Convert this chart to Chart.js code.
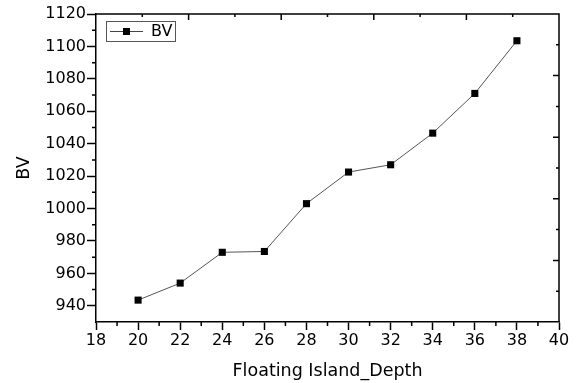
<!DOCTYPE html>
<html>
<head>
<meta charset="utf-8">
<script src="https://cdn.jsdelivr.net/npm/chart.js@4.4.1/dist/chart.umd.min.js"></script>
<style>
  html, body { margin: 0; padding: 0; background: #fff; }
  canvas { display: block; }
</style>
</head>
<body>
<canvas id="bvChart" width="580" height="383"></canvas>
<script>
// data
const depth = [20, 22, 24, 26, 28, 30, 32, 34, 36, 38];
const bv = [943.5, 954, 973, 973.5, 1003, 1022.5, 1027, 1046.5, 1071, 1103.5];
const xTicks = [18, 20, 22, 24, 26, 28, 30, 32, 34, 36, 38, 40];
const yTicks = [940, 960, 980, 1000, 1020, 1040, 1060, 1080, 1100, 1120];

const FONT = "'DejaVu Sans', sans-serif";

// frame, minor ticks, top/right ticks and the legend box
const framePlugin = {
  id: "frame",
  afterDraw(chart) {
    const ctx = chart.ctx;
    const xs = chart.scales.x;
    const ys = chart.scales.y;
    const a = chart.chartArea;
    ctx.save();
    ctx.strokeStyle = "#000";
    ctx.lineWidth = 1.5;

    // minor ticks bottom / left (outward)
    ctx.beginPath();
    for (let v = 19; v < 40; v += 2) {
      const px = xs.getPixelForValue(v);
      ctx.moveTo(px, a.bottom);
      ctx.lineTo(px, a.bottom + 4);
    }
    for (let v = 950; v < 1120; v += 20) {
      const py = ys.getPixelForValue(v);
      ctx.moveTo(a.left, py);
      ctx.lineTo(a.left - 4, py);
    }
    ctx.stroke();

    // top and right axes, 10 divisions each, ticks inward
    ctx.beginPath();
    ctx.moveTo(a.left, a.top);
    ctx.lineTo(a.right, a.top);
    ctx.lineTo(a.right, a.bottom);
    for (let i = 1; i < 10; i++) {
      const len = i % 2 === 0 ? 6 : 3;
      const px = xs.getPixelForValue(18 + 2.2 * i);
      ctx.moveTo(px, a.top);
      ctx.lineTo(px, a.top + len);
      const py = ys.getPixelForValue(1120 - 19 * i);
      ctx.moveTo(a.right, py);
      ctx.lineTo(a.right - len, py);
    }
    ctx.stroke();

    // legend
    const lx = a.left + 10, ly = a.top + 7, lw = 69, lh = 20;
    ctx.lineWidth = 1;
    ctx.strokeStyle = "#555";
    ctx.strokeRect(lx + 0.5, ly + 0.5, lw, lh);
    const my = ly + lh / 2 + 0.5;
    ctx.strokeStyle = "#444";
    ctx.beginPath();
    ctx.moveTo(lx + 4, my);
    ctx.lineTo(lx + 37, my);
    ctx.stroke();
    ctx.fillStyle = "#000";
    ctx.fillRect(lx + 17, my - 3.5, 7, 7);
    ctx.font = "16px " + FONT;
    ctx.textBaseline = "middle";
    ctx.fillText(chart.data.datasets[0].label, lx + 45, my);
    ctx.restore();
  }
};

new Chart("bvChart", {
  type: "line",
  data: {
    labels: depth,
    datasets: [{
      label: "BV",
      data: bv,
      borderColor: "#555",
      borderWidth: 1,
      pointStyle: "rect",
      pointRadius: 5,
      pointBackgroundColor: "#000",
      pointBorderColor: "#000",
      pointBorderWidth: 0,
      tension: 0,
      fill: false
    }]
  },
  options: {
    responsive: false,
    animation: false,
    layout: { padding: { left: 0, right: 21, top: 14, bottom: 0 } },
    plugins: { legend: { display: false }, tooltip: { enabled: false } },
    scales: {
      x: {
        type: "linear",
        min: 18,
        max: 40,
        afterBuildTicks: (s) => { s.ticks = xTicks.map(v => ({ value: v })); },
        afterFit: (s) => { s.height = 61; },
        grid: { drawOnChartArea: false, drawTicks: true, tickLength: 8, tickWidth: 1.5, tickColor: "#000" },
        border: { display: true, color: "#000", width: 1.5 },
        ticks: {
          color: "#000",
          font: { family: FONT, size: 16 },
          padding: 1,
          maxRotation: 0,
          autoSkip: false,
          callback: (v) => String(v)
        },
        title: {
          display: true,
          text: "Floating Island_Depth",
          color: "#000",
          font: { family: FONT, size: 17.5 },
          padding: { top: 0, bottom: 1 }
        }
      },
      y: {
        min: 930,
        max: 1120,
        afterBuildTicks: (s) => { s.ticks = yTicks.map(v => ({ value: v })); },
        afterFit: (s) => { s.width = 96; },
        grid: { drawOnChartArea: false, drawTicks: true, tickLength: 9, tickWidth: 1.5, tickColor: "#000" },
        border: { display: true, color: "#000", width: 1.5 },
        ticks: {
          color: "#000",
          font: { family: FONT, size: 16 },
          padding: 1,
          autoSkip: false,
          callback: (v) => String(v)
        },
        title: {
          display: true,
          text: "BV",
          color: "#000",
          font: { family: FONT, size: 17.5 },
          padding: { top: 14, bottom: 0 }
        }
      }
    }
  },
  plugins: [framePlugin]
});
</script>
</body>
</html>
